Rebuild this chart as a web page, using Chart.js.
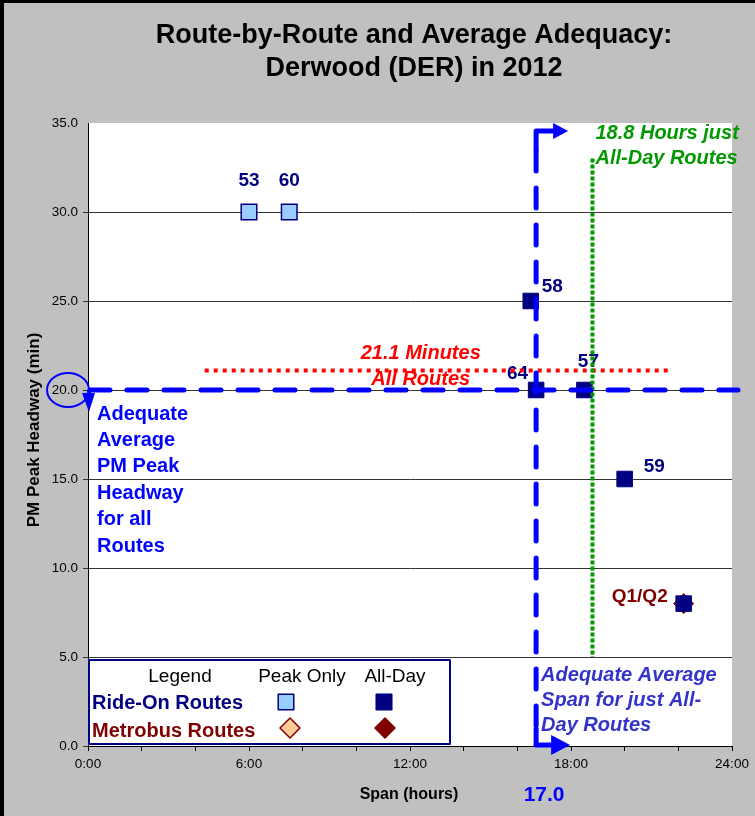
<!DOCTYPE html>
<html>
<head>
<meta charset="utf-8">
<script src="https://cdn.jsdelivr.net/npm/chart.js@4.4.1/dist/chart.umd.min.js"></script>
<style>
  body { margin: 0; background: #c0c0c0; }
  canvas { display: block; }
</style>
</head>
<body>
<canvas id="chart" width="755" height="816"></canvas>
<script>
// route data: span in hours, PM peak headway in minutes
const rideOnPeakRoutes = ["53", "60"];
const rideOnPeakSpan = [6.0, 7.5];
const rideOnPeakHeadway = [30, 30];

const rideOnAllDayRoutes = ["58", "64", "57", "59", ""];
const rideOnAllDaySpan = [16.5, 16.7, 18.5, 20.0, 22.2];
const rideOnAllDayHeadway = [25, 20, 20, 15, 8];

const metrobusAllDayRoutes = ["Q1/Q2"];
const metrobusAllDaySpan = [22.2];
const metrobusAllDayHeadway = [8];

// averages and targets
const avgHeadwayAll = 21.1;
const avgHeadwayFrom = 4.35;
const avgHeadwayTo = 21.7;
const avgSpanAllDay = 18.8;
const avgSpanFrom = 5;
const avgSpanTo = 33;
const adequateHeadway = 20.0;
const adequateSpan = 16.7;
const adequateSpanLabel = "17.0";

const xTickLabels = ["0:00", "6:00", "12:00", "18:00", "24:00"];

const FONT = "'Liberation Sans', Arial, sans-serif";
const BLUE = "#0000ff";
const NAVY = "#000080";
const MAROON = "#800000";
const GREEN = "#009900";
const RED = "#ff0000";

const toPoints = (xs, ys) => xs.map((x, i) => ({ x: x, y: ys[i] }));

// where each route number sits relative to its marker
const labelOffsets = {
  "53": [0, -31, "center"],
  "60": [0, -31, "center"],
  "58": [11, -14, "left"],
  "64": [-8, -16, "right"],
  "57": [4, -28, "center"],
  "59": [19, -12, "left"],
  "Q1/Q2": [-16, -7, "right"]
};

function text(ctx, str, x, y, font, color, align) {
  ctx.font = font;
  ctx.fillStyle = color;
  ctx.textAlign = align || "left";
  ctx.textBaseline = "middle";
  ctx.fillText(str, x, y);
}

function fillPoly(ctx, pts, color) {
  ctx.beginPath();
  ctx.moveTo(pts[0][0], pts[0][1]);
  pts.slice(1).forEach((p) => ctx.lineTo(p[0], p[1]));
  ctx.closePath();
  ctx.fillStyle = color;
  ctx.fill();
}

const decorations = {
  id: "decorations",
  beforeDraw(chart) {
    const { ctx, chartArea: a } = chart;
    ctx.save();
    ctx.fillStyle = "#c0c0c0";
    ctx.fillRect(0, 0, chart.width, chart.height);
    ctx.fillStyle = "#ffffff";
    ctx.fillRect(a.left, a.top, a.right - a.left, a.bottom - a.top);
    ctx.fillStyle = "#000000";
    ctx.fillRect(0, 0, 4, chart.height);
    ctx.fillRect(0, 0, chart.width, 3);
    ctx.restore();
  },
  afterDatasetsDraw(chart) {
    const { ctx, chartArea: a } = chart;
    const xs = chart.scales.x;
    const ys = chart.scales.y;
    const px = (v) => xs.getPixelForValue(v);
    const py = (v) => ys.getPixelForValue(v);
    ctx.save();

    // route labels
    chart.data.datasets.forEach((ds, di) => {
      const meta = chart.getDatasetMeta(di);
      (ds.routes || []).forEach((r, i) => {
        if (!r) return;
        const off = labelOffsets[r];
        const pt = meta.data[i];
        text(ctx, r, pt.x + off[0], pt.y + off[1], "bold 19px " + FONT,
          ds.labelColor, off[2]);
      });
    });

    // average headway, all routes (red dotted)
    const yAvg = py(avgHeadwayAll);
    ctx.strokeStyle = RED;
    ctx.lineWidth = 4;
    ctx.setLineDash([4, 5]);
    ctx.beginPath();
    ctx.moveTo(px(avgHeadwayFrom), yAvg);
    ctx.lineTo(px(avgHeadwayTo), yAvg);
    ctx.stroke();
    text(ctx, "21.1 Minutes", px(12.4), yAvg - 17, "italic bold 20px " + FONT, RED, "center");
    text(ctx, "All Routes", px(12.4), yAvg + 9, "italic bold 20px " + FONT, RED, "center");

    // average span, all-day routes (green dotted)
    const xAvg = px(avgSpanAllDay);
    ctx.strokeStyle = GREEN;
    ctx.lineWidth = 4;
    ctx.setLineDash([4, 2]);
    ctx.beginPath();
    ctx.moveTo(xAvg, py(avgSpanTo));
    ctx.lineTo(xAvg, py(avgSpanFrom));
    ctx.stroke();
    text(ctx, "18.8 Hours just", xAvg + 3, a.top + 10, "italic bold 20px " + FONT, GREEN, "left");
    text(ctx, "All-Day Routes", xAvg + 3, a.top + 35, "italic bold 20px " + FONT, GREEN, "left");

    // adequate headway (blue dashed, horizontal)
    const yAdq = py(adequateHeadway);
    ctx.strokeStyle = BLUE;
    ctx.lineWidth = 5;
    ctx.lineCap = "round";
    ctx.setLineDash([20, 17]);
    ctx.beginPath();
    ctx.moveTo(a.left + 2, yAdq);
    ctx.lineTo(a.right + 6, yAdq);
    ctx.stroke();

    // adequate span (blue dashed, vertical)
    const xAdq = px(adequateSpan);
    const yTop = a.top + 8;
    ctx.beginPath();
    ctx.moveTo(xAdq, yTop + 20);
    ctx.lineTo(xAdq, a.bottom - 20);
    ctx.stroke();
    ctx.setLineDash([]);
    ctx.lineCap = "butt";
    ctx.lineJoin = "round";
    ctx.beginPath();
    ctx.moveTo(xAdq, yTop + 20);
    ctx.lineTo(xAdq, yTop);
    ctx.lineTo(xAdq + 18, yTop);
    ctx.stroke();
    fillPoly(ctx, [[xAdq + 17, yTop - 8], [xAdq + 32, yTop], [xAdq + 17, yTop + 8]], BLUE);
    const yBot = a.bottom - 1;
    ctx.beginPath();
    ctx.moveTo(xAdq, a.bottom - 18);
    ctx.lineTo(xAdq, yBot);
    ctx.lineTo(xAdq + 16, yBot);
    ctx.stroke();
    fillPoly(ctx, [[xAdq + 15, yBot - 10], [xAdq + 34, yBot], [xAdq + 15, yBot + 10]], BLUE);

    // down arrow and ring on the 20.0 tick
    fillPoly(ctx, [[a.left - 6, yAdq + 3], [a.left + 7, yAdq + 3], [a.left + 1, yAdq + 22]], BLUE);
    ctx.lineWidth = 4;
    ctx.beginPath();
    ctx.moveTo(a.left + 1, yAdq);
    ctx.lineTo(a.left + 1, yAdq + 6);
    ctx.stroke();
    ctx.lineWidth = 2;
    ctx.beginPath();
    ctx.ellipse(a.left - 20, yAdq, 21, 17, 0, 0, Math.PI * 2);
    ctx.stroke();

    ["Adequate", "Average", "PM Peak", "Headway", "for all", "Routes"].forEach((s, i) => {
      text(ctx, s, a.left + 9, yAdq + 24 + i * 26.4, "bold 20px " + FONT, BLUE, "left");
    });
    ["Adequate Average", "Span for just All-", "Day Routes"].forEach((s, i) => {
      text(ctx, s, xAdq + 5, a.bottom - 71 + i * 25, "italic bold 20px " + FONT, "#3333cc", "left");
    });

    // legend box
    const lx = a.left, ly = a.bottom - 87, lw = 363, lh = 86;
    ctx.fillStyle = "#ffffff";
    ctx.fillRect(lx, ly, lw, lh);
    ctx.strokeStyle = NAVY;
    ctx.lineWidth = 2;
    ctx.strokeRect(lx + 1, ly + 1, lw - 2, lh - 2);
    text(ctx, "Legend", lx + 92, ly + 18, "19px " + FONT, "#000000", "center");
    text(ctx, "Peak Only", lx + 214, ly + 18, "19px " + FONT, "#000000", "center");
    text(ctx, "All-Day", lx + 307, ly + 18, "19px " + FONT, "#000000", "center");
    text(ctx, "Ride-On Routes", lx + 4, ly + 44, "bold 20px " + FONT, NAVY, "left");
    text(ctx, "Metrobus Routes", lx + 4, ly + 72, "bold 20px " + FONT, MAROON, "left");
    const marks = [
      [lx + 198, ly + 43, "rect", 11, "#99ccff", NAVY],
      [lx + 296, ly + 43, "rect", 11, NAVY, NAVY],
      [lx + 202, ly + 69, "rectRot", 10, "#ffcc99", MAROON],
      [lx + 297, ly + 69, "rectRot", 10, MAROON, MAROON]
    ];
    marks.forEach((m) => {
      ctx.fillStyle = m[4];
      ctx.strokeStyle = m[5];
      ctx.lineWidth = 1.5;
      Chart.helpers.drawPoint(ctx, { pointStyle: m[2], radius: m[3], borderWidth: 1.5 }, m[0], m[1]);
    });

    // titles
    text(ctx, "Route-by-Route and Average Adequacy:", 414, 36, "bold 27px " + FONT, "#000000", "center");
    text(ctx, "Derwood (DER) in 2012", 414, 69, "bold 27px " + FONT, "#000000", "center");
    text(ctx, "Span (hours)", 409, 795, "bold 16px " + FONT, "#000000", "center");
    text(ctx, adequateSpanLabel, xAdq + 8, 795, "bold 21px " + FONT, BLUE, "center");
    ctx.save();
    ctx.translate(34, 430);
    ctx.rotate(-Math.PI / 2);
    text(ctx, "PM Peak Headway (min)", 0, 0, "bold 17px " + FONT, "#000000", "center");
    ctx.restore();

    ctx.restore();
  }
};

const chart = new Chart(document.getElementById("chart"), {
  type: "scatter",
  plugins: [decorations],
  data: {
    datasets: [
      {
        label: "Ride-On Peak Only",
        routes: rideOnPeakRoutes,
        labelColor: NAVY,
        data: toPoints(rideOnPeakSpan, rideOnPeakHeadway),
        pointStyle: "rect",
        pointRadius: 11,
        pointHoverRadius: 11,
        backgroundColor: "#99ccff",
        borderColor: NAVY,
        borderWidth: 1.5
      },
      {
        label: "Ride-On All-Day",
        routes: rideOnAllDayRoutes,
        labelColor: NAVY,
        data: toPoints(rideOnAllDaySpan, rideOnAllDayHeadway),
        pointStyle: "rect",
        pointRadius: 11,
        pointHoverRadius: 11,
        backgroundColor: NAVY,
        borderColor: NAVY,
        borderWidth: 1
      },
      {
        label: "Metrobus All-Day",
        routes: metrobusAllDayRoutes,
        labelColor: MAROON,
        data: toPoints(metrobusAllDaySpan, metrobusAllDayHeadway),
        pointStyle: "rectRot",
        pointRadius: 10,
        pointHoverRadius: 10,
        backgroundColor: MAROON,
        borderColor: MAROON,
        borderWidth: 1
      }
    ]
  },
  options: {
    responsive: false,
    animation: false,
    devicePixelRatio: 1,
    layout: { padding: { top: 123, right: 23, left: 0, bottom: 0 } },
    plugins: {
      legend: { display: false },
      tooltip: { enabled: false }
    },
    scales: {
      x: {
        type: "linear",
        min: 0,
        max: 24,
        afterFit: (s) => { s.height = 70; },
        ticks: {
          stepSize: 2,
          autoSkip: false,
          maxRotation: 0,
          padding: 5,
          color: "#000000",
          font: { family: FONT, size: 13.5 },
          callback: (v) => (v % 6 === 0 ? xTickLabels[v / 6] : "")
        },
        grid: { drawOnChartArea: false, tickLength: 5, color: "#000000" },
        border: { color: "#000000", width: 1 }
      },
      y: {
        min: 0,
        max: 35,
        afterFit: (s) => { s.width = 88; },
        ticks: {
          stepSize: 5,
          padding: 5,
          color: "#000000",
          font: { family: FONT, size: 13.5 },
          callback: (v) => v.toFixed(1)
        },
        grid: {
          tickLength: 5,
          color: (c) => (c.tick && c.tick.value === 35 ? "rgba(0,0,0,0)" : "#333333")
        },
        border: { color: "#000000", width: 1 }
      }
    }
  }
});
</script>
</body>
</html>
